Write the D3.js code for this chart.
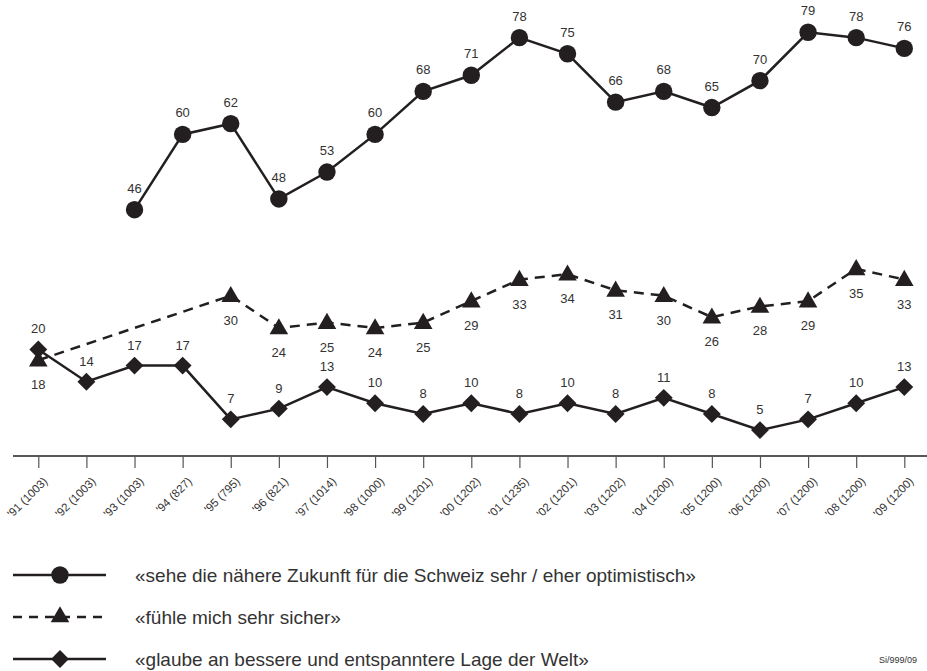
<!DOCTYPE html>
<html>
<head>
<meta charset="utf-8">
<script src="https://cdn.jsdelivr.net/npm/d3@7"></script>
<style>
  html, body { margin: 0; padding: 0; background: #fff; }
  svg { display: block; font-family: "Liberation Sans", Arial, sans-serif; }
</style>
</head>
<body>
<svg id="chart" width="927" height="671"></svg>
<script>
const years = [1991,1992,1993,1994,1995,1996,1997,1998,1999,2000,2001,2002,2003,2004,2005,2006,2007,2008,2009];
const tickLabels = ["'91 (1003)","'92 (1003)","'93 (1003)","'94 (827)","'95 (795)","'96 (821)","'97 (1014)","'98 (1000)","'99 (1201)","'00 (1202)","'01 (1235)","'02 (1201)","'03 (1202)","'04 (1200)","'05 (1200)","'06 (1200)","'07 (1200)","'08 (1200)","'09 (1200)"];
const optimistic = [null,null,46,60,62,48,53,60,68,71,78,75,66,68,65,70,79,78,76];
const safe = [18,null,null,null,30,24,25,24,25,29,33,34,31,30,26,28,29,35,33];
const world = [20,14,17,17,7,9,13,10,8,10,8,10,8,11,8,5,7,10,13];
const legendLabels = [
  "«sehe die nähere Zukunft für die Schweiz sehr / eher optimistisch»",
  "«fühle mich sehr sicher»",
  "«glaube an bessere und entspanntere Lage der Welt»"
];
const sourceNote = "Si/999/09";

const svg = d3.select("#chart");
const ink = "#231f20";
const textCol = "#333";

const x = d3.scalePoint().domain(years).range([38.3, 904.3]);
const y = d3.scaleLinear().domain([0, 85]).range([457, 0]);

// axis
svg.append("line").attr("x1", 13).attr("x2", 927).attr("y1", 456).attr("y2", 456)
  .attr("stroke", ink).attr("stroke-width", 1.5);
const axis = d3.axisBottom(x).tickSize(12).tickSizeOuter(0).tickFormat("");
const ag = svg.append("g").attr("transform", "translate(0,456)").call(axis);
ag.select(".domain").remove();
ag.selectAll(".tick line").attr("stroke", "#555").attr("stroke-width", 1.2);

const tl = svg.append("g").selectAll("g").data(years).join("g")
  .attr("transform", d => `translate(${x(d) + 10},482) rotate(-45)`);
tl.append("text")
  .attr("x", 0).attr("y", 0)
  .attr("text-anchor", "end")
  .attr("fill", textCol)
  .style("font-size", "11.5px")
  .text((d, i) => tickLabels[i]);

function series(vals) {
  return years.map((yr, i) => ({yr, v: vals[i]})).filter(d => d.v != null);
}

const lineGen = d3.line().x(d => x(d.yr)).y(d => y(d.v));

const sOpt = series(optimistic), sSafe = series(safe), sWorld = series(world);

svg.append("path").datum(sSafe).attr("d", lineGen).attr("fill", "none")
  .attr("stroke", ink).attr("stroke-width", 2.5).attr("stroke-dasharray", "10,7");
svg.append("path").datum(sWorld).attr("d", lineGen).attr("fill", "none")
  .attr("stroke", ink).attr("stroke-width", 2.5);
svg.append("path").datum(sOpt).attr("d", lineGen).attr("fill", "none")
  .attr("stroke", ink).attr("stroke-width", 2.5);

const symCircle = d3.symbol().type(d3.symbolCircle).size(Math.PI * 8.7 * 8.7);
const symTri = d3.symbol().type(d3.symbolTriangle).size(150);
const symDia = d3.symbol().type(d3.symbolSquare).size(160);

svg.append("g").selectAll("path").data(sWorld).join("path")
  .attr("d", symDia).attr("fill", ink)
  .attr("transform", d => `translate(${x(d.yr)},${y(d.v)}) rotate(45)`);
svg.append("g").selectAll("path").data(sSafe).join("path")
  .attr("d", symTri).attr("fill", ink)
  .attr("transform", d => `translate(${x(d.yr)},${y(d.v) + 1})`);
svg.append("g").selectAll("path").data(sOpt).join("path")
  .attr("d", symCircle).attr("fill", ink)
  .attr("transform", d => `translate(${x(d.yr)},${y(d.v)})`);

function labels(data, dy) {
  svg.append("g").selectAll("text").data(data).join("text")
    .attr("x", d => x(d.yr)).attr("y", d => y(d.v) + dy)
    .attr("text-anchor", "middle").attr("fill", textCol)
    .style("font-size", "13px").text(d => d.v);
}
labels(sOpt, -17);
labels(sSafe, 29);
labels(sWorld, -16);

// legend
const legY = [575, 617, 659];
const lg = svg.append("g");
lg.append("line").attr("x1", 13).attr("x2", 106).attr("y1", legY[0]).attr("y2", legY[0])
  .attr("stroke", ink).attr("stroke-width", 2.5);
lg.append("path").attr("d", symCircle).attr("fill", ink).attr("transform", `translate(60,${legY[0]})`);
lg.append("line").attr("x1", 13).attr("x2", 106).attr("y1", legY[1]).attr("y2", legY[1])
  .attr("stroke", ink).attr("stroke-width", 2.5).attr("stroke-dasharray", "9,7");
lg.append("path").attr("d", symTri).attr("fill", ink).attr("transform", `translate(60,${legY[1]})`);
lg.append("line").attr("x1", 13).attr("x2", 106).attr("y1", legY[2]).attr("y2", legY[2])
  .attr("stroke", ink).attr("stroke-width", 2.5);
lg.append("path").attr("d", symDia).attr("fill", ink).attr("transform", `translate(60,${legY[2]}) rotate(45)`);

lg.selectAll("text").data(legendLabels).join("text")
  .attr("x", 135).attr("y", (d, i) => legY[i] + 7)
  .attr("fill", textCol).style("font-size", "19px").text(d => d);

svg.append("text").attr("x", 917).attr("y", 663).attr("text-anchor", "end")
  .attr("fill", textCol).style("font-size", "9px").text(sourceNote);
</script>
</body>
</html>
